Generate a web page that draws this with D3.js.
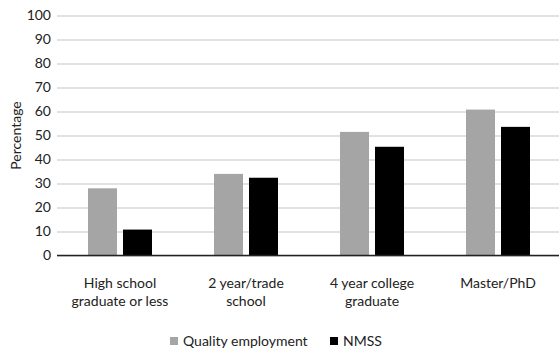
<!DOCTYPE html>
<html>
<head>
<meta charset="utf-8">
<script src="https://cdn.jsdelivr.net/npm/d3@7"></script>
<style>
  html, body { margin: 0; padding: 0; background: #fff; }
  svg { display: block; font-family: Lato, "Open Sans", sans-serif; }
</style>
</head>
<body>
<svg id="chart" width="559" height="350"></svg>
<script>
// Education level categories (two-line labels)
const categories = ["High school graduate or less", "2 year/trade school", "4 year college graduate", "Master/PhD"];
const categoryLines = [["High school", "graduate or less"], ["2 year/trade", "school"], ["4 year college", "graduate"], ["Master/PhD"]];
const seriesNames = ["Quality employment", "NMSS"];
const qualityEmployment = [28, 34, 51.5, 60.8];
const nmss = [10.8, 32.4, 45.3, 53.6];
const yTicks = [0, 10, 20, 30, 40, 50, 60, 70, 80, 90, 100];
const colors = ["#a5a5a5", "#000000"];

const svg = d3.select("#chart");
const margin = { left: 57, right: -2, top: 15.5, bottom: 94.5 };
const W = 559, H = 350;
const fs = 14;

const x = d3.scaleBand().domain(categories).range([margin.left, W - margin.right]).paddingInner(0).paddingOuter(0);
const y = d3.scaleLinear().domain([0, 100]).range([H - margin.bottom, margin.top]);

// Gridlines and tick labels
const yAxis = svg.append("g").attr("transform", `translate(${margin.left},0)`)
  .call(d3.axisLeft(y).tickValues(yTicks).tickSize(-(W - margin.left)).tickPadding(6));
yAxis.select(".domain").remove();
yAxis.selectAll(".tick line").attr("stroke", "#d9d9d9").attr("stroke-width", 1.3);
yAxis.selectAll(".tick text").attr("font-size", fs).attr("fill", "#222").attr("font-family", "Lato, sans-serif");

// Bars
const bw = 29, gap = 6;
const groups = svg.append("g").selectAll("g").data(categories).join("g")
  .attr("transform", d => `translate(${x(d) + x.bandwidth() / 2},0)`);
groups.append("rect")
  .attr("x", -bw - gap / 2).attr("width", bw)
  .attr("y", (d, i) => y(qualityEmployment[i]))
  .attr("height", (d, i) => y(0) - y(qualityEmployment[i]))
  .attr("fill", colors[0]);
groups.append("rect")
  .attr("x", gap / 2).attr("width", bw)
  .attr("y", (d, i) => y(nmss[i]))
  .attr("height", (d, i) => y(0) - y(nmss[i]))
  .attr("fill", colors[1]);

// Baseline
svg.append("line").attr("x1", margin.left).attr("x2", W)
  .attr("y1", y(0)).attr("y2", y(0)).attr("stroke", "#222").attr("stroke-width", 1.3);

// Category labels
groups.each(function (d, i) {
  const t = d3.select(this).append("text").attr("text-anchor", "middle")
    .attr("font-size", fs).attr("fill", "#222");
  categoryLines[i].forEach((line, k) => {
    t.append("tspan").attr("x", 0).attr("y", 288 + k * 18).text(line);
  });
});

// Y axis title
svg.append("text").attr("transform", `translate(21,${(y(0) + y(100)) / 2}) rotate(-90)`)
  .attr("text-anchor", "middle").attr("font-size", fs).attr("fill", "#222").text("Percentage");

// Legend
const legend = svg.append("g");
const legendX = [170, 330];
seriesNames.forEach((name, i) => {
  legend.append("rect").attr("x", legendX[i]).attr("y", 337).attr("width", 8).attr("height", 8).attr("fill", colors[i]);
  legend.append("text").attr("x", legendX[i] + 13).attr("y", 346).attr("font-size", fs).attr("fill", "#222").text(name);
});
</script>
</body>
</html>
